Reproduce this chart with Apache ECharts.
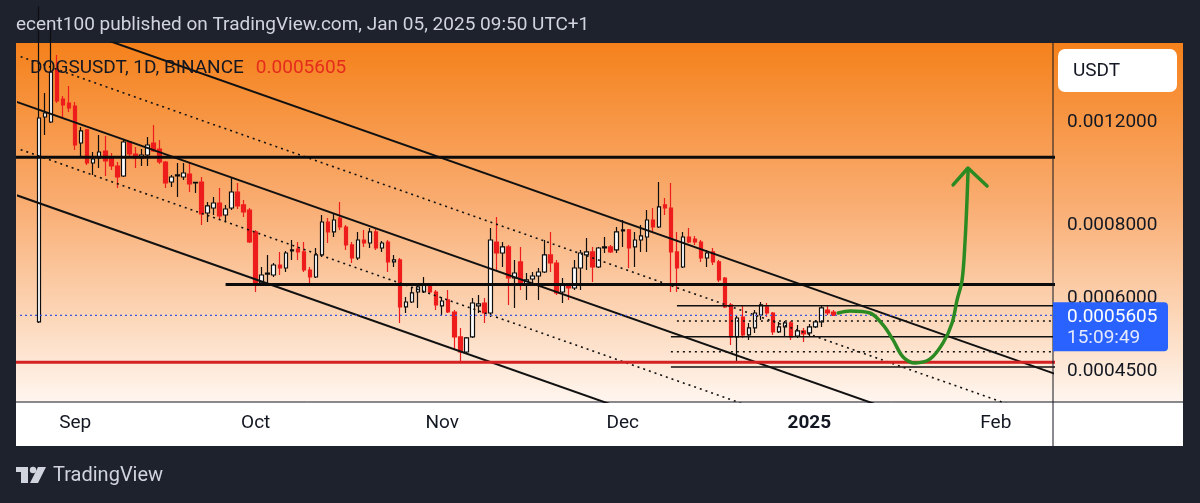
<!DOCTYPE html>
<html>
<head>
<meta charset="UTF-8">
<title>DOGSUSDT 1D</title>
<style>
    html, body {
        margin: 0;
        padding: 0;
        background: #1e222d;
    }

    #chart {
        width: 1200px;
        height: 503px;
    }
</style>
<script src="https://cdn.jsdelivr.net/npm/echarts@6/dist/echarts.min.js"></script>
</head>
<body>
<div id="chart"></div>
<script>
    // one category per day, the empty days on the right keep room for the forecast
    var axisFirstDay = '2024-08-23';
    var axisDayCount = 172;

    var tickDays = ['2024-09-01', '2024-10-01', '2024-11-01', '2024-12-01', '2025-01-01', '2025-02-01'];
    var tickLabels = ['Sep', 'Oct', 'Nov', 'Dec', '2025', 'Feb'];
    var priceTicks = [0.00045, 0.0006, 0.0008, 0.0012];

    // daily candles, first one on candleFirstDay
    var candleFirstDay = '2024-08-26';
    var open = [
        0.0005461, 0.0012273, 0.0012032, 0.0014777, 0.0013176, 0.0012970, 0.0012818, 0.0011074, 0.0011659, 0.0010233,
        0.0010437, 0.0010730, 0.0010437, 0.0010113, 0.0009721, 0.0011118, 0.0010603, 0.0010437, 0.0010562, 0.0011074,
        0.0010814, 0.0010274, 0.0009493, 0.0009721, 0.0009683, 0.0009797, 0.0009456, 0.0009493, 0.0008398, 0.0008566,
        0.0008737, 0.0008333, 0.0008566, 0.0009125, 0.0008669, 0.0008499, 0.0007792, 0.0006370, 0.0006599, 0.0006574,
        0.0006839, 0.0006758, 0.0007228, 0.0007285, 0.0007200, 0.0006705, 0.0006522, 0.0007115, 0.0008105, 0.0007792,
        0.0008234, 0.0007947, 0.0007402, 0.0007031, 0.0007549, 0.0007460, 0.0007792, 0.0007314, 0.0007489, 0.0006921,
        0.0006976, 0.0005794, 0.0005909, 0.0006147, 0.0006147, 0.0006345, 0.0006147, 0.0005817, 0.0005956, 0.0005680,
        0.0005146, 0.0004849, 0.0005146, 0.0005817, 0.0005885, 0.0005657, 0.0007489, 0.0007171, 0.0007344, 0.0006496,
        0.0006921, 0.0006320, 0.0006471, 0.0006548, 0.0006652, 0.0007115, 0.0006893, 0.0006147, 0.0006320, 0.0006245,
        0.0006758, 0.0007115, 0.0007200, 0.0006785, 0.0007314, 0.0007344, 0.0007257, 0.0007823, 0.0007854, 0.0007344,
        0.0007549, 0.0007639, 0.0008170, 0.0007947, 0.0008669, 0.0008566, 0.0007200, 0.0006785, 0.0007639, 0.0007579,
        0.0007489, 0.0007031, 0.0007200, 0.0006921, 0.0006496, 0.0005840, 0.0005146, 0.0005569, 0.0005187, 0.0005333,
        0.0005613, 0.0005794, 0.0005657, 0.0005249, 0.0005354, 0.0005439, 0.0005166, 0.0005270, 0.0005228, 0.0005354,
        0.0005461, 0.0005725, 0.0005680
    ];
    var close = [
        0.0012224, 0.0012468, 0.0014660, 0.0013074, 0.0012869, 0.0012716, 0.0010988, 0.0011613, 0.0010233, 0.0010395,
        0.0010688, 0.0010315, 0.0010113, 0.0009683, 0.0011118, 0.0010603, 0.0010437, 0.0010562, 0.0010988, 0.0010730,
        0.0010274, 0.0009456, 0.0009683, 0.0009760, 0.0009836, 0.0009418, 0.0009475, 0.0008365, 0.0008635, 0.0008737,
        0.0008300, 0.0008532, 0.0009125, 0.0008635, 0.0008432, 0.0007489, 0.0006370, 0.0006574, 0.0006626, 0.0006839,
        0.0006758, 0.0007171, 0.0007257, 0.0007200, 0.0006705, 0.0006522, 0.0007115, 0.0008105, 0.0007792, 0.0008170,
        0.0007947, 0.0007402, 0.0007031, 0.0007549, 0.0007460, 0.0007792, 0.0007314, 0.0007460, 0.0006921, 0.0006976,
        0.0005794, 0.0005909, 0.0006123, 0.0006270, 0.0006320, 0.0006147, 0.0005840, 0.0005932, 0.0005680, 0.0005146,
        0.0004849, 0.0005126, 0.0005885, 0.0005863, 0.0005657, 0.0007549, 0.0007171, 0.0007344, 0.0006496, 0.0006626,
        0.0006320, 0.0006446, 0.0006548, 0.0006652, 0.0007115, 0.0006893, 0.0006123, 0.0006320, 0.0006245, 0.0006758,
        0.0007171, 0.0007200, 0.0006785, 0.0007314, 0.0007344, 0.0007200, 0.0007792, 0.0007854, 0.0007314, 0.0007549,
        0.0007670, 0.0008170, 0.0007947, 0.0008601, 0.0008566, 0.0007200, 0.0006758, 0.0007639, 0.0007489, 0.0007489,
        0.0007031, 0.0007171, 0.0006921, 0.0006446, 0.0005794, 0.0005146, 0.0005547, 0.0005187, 0.0005333, 0.0005657,
        0.0005840, 0.0005657, 0.0005249, 0.0005354, 0.0005439, 0.0005146, 0.0005270, 0.0005207, 0.0005354, 0.0005461,
        0.0005771, 0.0005657, 0.0005605
    ];
    var low = [
        0.0005439, 0.0011431, 0.0011985, 0.0012970, 0.0012224, 0.0012518, 0.0010773, 0.0010520, 0.0010153, 0.0009760,
        0.0010033, 0.0009721, 0.0009954, 0.0009271, 0.0009683, 0.0010520, 0.0010033, 0.0010113, 0.0010113, 0.0010688,
        0.0010192, 0.0009271, 0.0009308, 0.0008947, 0.0009569, 0.0009125, 0.0009089, 0.0008010, 0.0008105, 0.0008333,
        0.0008170, 0.0008105, 0.0008499, 0.0008532, 0.0008267, 0.0007460, 0.0006147, 0.0006320, 0.0006320, 0.0006522,
        0.0006574, 0.0006652, 0.0006976, 0.0006976, 0.0006652, 0.0006370, 0.0006496, 0.0007059, 0.0007460, 0.0007639,
        0.0007854, 0.0007257, 0.0006893, 0.0006976, 0.0007344, 0.0007314, 0.0007257, 0.0007200, 0.0006652, 0.0006785,
        0.0005439, 0.0005657, 0.0005885, 0.0005771, 0.0006123, 0.0006099, 0.0005725, 0.0005613, 0.0005657, 0.0004888,
        0.0004662, 0.0004830, 0.0005126, 0.0005657, 0.0005439, 0.0005569, 0.0006705, 0.0006785, 0.0005840, 0.0005771,
        0.0006196, 0.0005956, 0.0006320, 0.0005956, 0.0006626, 0.0006652, 0.0006075, 0.0005885, 0.0005956, 0.0006196,
        0.0006196, 0.0006705, 0.0006395, 0.0006758, 0.0007171, 0.0007171, 0.0007171, 0.0007344, 0.0006758, 0.0006785,
        0.0007200, 0.0007200, 0.0007761, 0.0007916, 0.0008333, 0.0006147, 0.0006147, 0.0006758, 0.0007460, 0.0007402,
        0.0006921, 0.0006785, 0.0006839, 0.0006395, 0.0005771, 0.0004986, 0.0004662, 0.0005126, 0.0005086, 0.0005228,
        0.0005504, 0.0005569, 0.0005187, 0.0005228, 0.0005146, 0.0005086, 0.0005126, 0.0005046, 0.0005146, 0.0005333,
        0.0005354, 0.0005613, 0.0005590
    ];
    var high = [
        0.0019000, 0.0013493, 0.0017500, 0.0015681, 0.0013335, 0.0013872, 0.0013022, 0.0011797, 0.0011703, 0.0010688,
        0.0011431, 0.0011386, 0.0010645, 0.0010274, 0.0011250, 0.0011163, 0.0010901, 0.0010814, 0.0011341, 0.0011891,
        0.0011207, 0.0010315, 0.0009760, 0.0010233, 0.0010233, 0.0010233, 0.0009493, 0.0009683, 0.0008772, 0.0008947,
        0.0009271, 0.0008669, 0.0009683, 0.0009456, 0.0008842, 0.0008566, 0.0007854, 0.0006785, 0.0007115, 0.0006893,
        0.0007200, 0.0007228, 0.0007549, 0.0007489, 0.0007489, 0.0006785, 0.0007314, 0.0008333, 0.0008234, 0.0008398,
        0.0008772, 0.0008010, 0.0007489, 0.0007792, 0.0007854, 0.0007916, 0.0007916, 0.0007519, 0.0007549, 0.0007115,
        0.0007031, 0.0006027, 0.0006270, 0.0006320, 0.0006522, 0.0006370, 0.0006196, 0.0006027, 0.0006196, 0.0005725,
        0.0005333, 0.0005146, 0.0006003, 0.0006075, 0.0006003, 0.0007916, 0.0008267, 0.0007489, 0.0007402, 0.0006976,
        0.0007344, 0.0006626, 0.0006652, 0.0006758, 0.0007549, 0.0007792, 0.0006976, 0.0006496, 0.0006370, 0.0006976,
        0.0007257, 0.0007609, 0.0007344, 0.0007344, 0.0007639, 0.0007402, 0.0007947, 0.0008170, 0.0007885, 0.0007792,
        0.0008010, 0.0008499, 0.0008566, 0.0009493, 0.0008912, 0.0009456, 0.0007792, 0.0007792, 0.0007916, 0.0007670,
        0.0007549, 0.0007257, 0.0007314, 0.0006976, 0.0006522, 0.0005885, 0.0005613, 0.0005840, 0.0005439, 0.0005725,
        0.0005909, 0.0005885, 0.0005680, 0.0005461, 0.0005482, 0.0005482, 0.0005396, 0.0005333, 0.0005418, 0.0005504,
        0.0005817, 0.0005840, 0.0005725
    ];

    // drawings on the chart, as [day, price]
    var channelSolid = [
        [['2024-08-22', 0.0018895], ['2025-02-11', 0.0004443]],
        [['2024-08-22', 0.0013055], ['2025-02-11', 0.0003069]],
        [['2024-08-22', 0.0009029], ['2025-02-11', 0.0002123]]
    ];
    var channelDotted = [
        [['2024-08-22', 0.0015700], ['2025-02-11', 0.0003691]],
        [['2024-08-22', 0.0010873], ['2025-02-11', 0.0002556]]
    ];
    var levelLines = [
        [['2024-08-22', 0.0010466], ['2025-02-11', 0.0010466]],
        [['2024-09-26', 0.0006333], ['2025-02-11', 0.0006333]]
    ];
    var supportLine = [['2024-08-22', 0.0004657], ['2025-02-11', 0.0004657]];
    var rangeSolid = [
        [['2024-12-10', 0.0005824], ['2025-02-11', 0.0005824]],
        [['2024-12-09', 0.0005152], ['2025-02-11', 0.0005152]],
        [['2024-12-09', 0.0004571], ['2025-02-11', 0.0004571]]
    ];
    var rangeDotted = [
        [['2024-12-10', 0.0005482], ['2025-02-11', 0.0005482]],
        [['2024-12-09', 0.0004855], ['2025-02-11', 0.0004855]]
    ];
    var forecastPath = [
        ['2025-01-05 19:00', 0.0005657],
        ['2025-01-07 18:30', 0.0005702],
        ['2025-01-11 02:00', 0.0005657],
        ['2025-01-13 06:00', 0.0005396],
        ['2025-01-14 22:00', 0.0005086],
        ['2025-01-16 14:00', 0.0004755],
        ['2025-01-18 14:00', 0.0004643],
        ['2025-01-21 02:00', 0.0004718],
        ['2025-01-23 05:30', 0.0005026],
        ['2025-01-24 17:30', 0.0005439],
        ['2025-01-25 13:30', 0.0005956],
        ['2025-01-26 09:30', 0.0006446],
        ['2025-01-26 21:30', 0.0007549],
        ['2025-01-27 05:00', 0.0008842],
        ['2025-01-27 09:00', 0.0009875]
    ];
    var forecastHead = [['2025-01-24 21:30', 0.0009382], ['2025-01-27 09:00', 0.0010033], ['2025-01-30 13:00', 0.0009345]];

    var DAY = 864e5;

    function ts(s) {
        var p = s.split(/[- :]/).map(Number);
        return Date.UTC(p[0], p[1] - 1, p[2], p[3] || 0, p[4] || 0);
    }

    var days = [];
    for (var i = 0; i < axisDayCount; i++) {
        days.push(new Date(ts(axisFirstDay) + i * DAY).toISOString().slice(0, 10));
    }

    var candleRows = open.map(function (o, k) {
        var day = new Date(ts(candleFirstDay) + k * DAY).toISOString().slice(0, 10);
        return [day, o, close[k], low[k], high[k]];
    });
    var lastClose = close[close.length - 1];

    function drawLine(points, style, z, smooth) {
        return {
            type: 'line',
            xAxisIndex: 1,
            yAxisIndex: 0,
            data: points.map(function (p) { return [ts(p[0]), p[1]]; }),
            symbol: 'none',
            smooth: smooth || false,
            silent: true,
            clip: true,
            animation: false,
            lineStyle: style,
            z: z
        };
    }

    var series = [{
        type: 'candlestick',
        xAxisIndex: 0,
        yAxisIndex: 0,
        dimensions: ['day', 'open', 'close', 'low', 'high'],
        encode: {x: 0, y: [1, 2, 3, 4]},
        data: candleRows,
        barWidth: 4,
        clip: true,
        silent: true,
        animation: false,
        itemStyle: {
            color: '#ffffff',
            color0: '#ee1c1c',
            borderColor: '#0e0e0e',
            borderColor0: '#ee1c1c',
            borderWidth: 1.2
        },
        z: 2
    }];

    channelSolid.forEach(function (l) {
        series.push(drawLine(l, {color: '#111111', width: 2}, 3));
    });
    channelDotted.forEach(function (l) {
        series.push(drawLine(l, {color: '#111111', width: 1.6, type: [2, 4]}, 3));
    });
    levelLines.forEach(function (l) {
        series.push(drawLine(l, {color: '#0b0b0b', width: 3}, 4));
    });
    rangeSolid.forEach(function (l) {
        series.push(drawLine(l, {color: '#111111', width: 1.5}, 3));
    });
    rangeDotted.forEach(function (l) {
        series.push(drawLine(l, {color: '#111111', width: 1.6, type: [2, 4]}, 3));
    });
    series.push(drawLine(supportLine, {color: '#d42222', width: 3}, 4));
    series.push(drawLine([['2024-08-22', lastClose], ['2025-02-11', lastClose]],
        {color: '#3f55e0', width: 1.3, type: [2, 3]}, 3));
    series.push(drawLine(forecastPath, {color: '#2b8a22', width: 3.5, cap: 'round'}, 6, 0.35));
    series.push(drawLine(forecastHead, {color: '#2b8a22', width: 3.5, cap: 'round', join: 'round'}, 6));

    var bgGradient = new echarts.graphic.LinearGradient(0, 0, 0, 1, [
        {offset: 0, color: '#f5811b'},
        {offset: 0.45, color: '#f9ad72'},
        {offset: 0.75, color: '#fcd5b6'},
        {offset: 1, color: '#fff6ef'}
    ]);

    var font = 'Roboto, "Noto Sans", sans-serif';

    var chart = echarts.init(document.getElementById('chart'), null, {renderer: 'canvas'});

    var option = {
        backgroundColor: '#1e222d',
        animation: false,
        grid: {left: 18, right: 147, top: 43, bottom: 101},
        xAxis: [{
            type: 'category',
            data: days,
            boundaryGap: true,
            axisLine: {show: false},
            axisTick: {show: false},
            splitLine: {show: false},
            axisLabel: {
                interval: function (index, value) {
                    return tickDays.indexOf(value) >= 0;
                },
                formatter: function (value) {
                    var label = tickLabels[tickDays.indexOf(value)];
                    return label === '2025' ? '{b|' + label + '}' : label;
                },
                rich: {b: {fontWeight: 'bold', fontSize: 19, fontFamily: font, color: '#131722'}},
                color: '#131722',
                fontSize: 19,
                fontFamily: font,
                margin: 12
            }
        }, {
            type: 'time',
            show: false,
            min: ts(axisFirstDay) - DAY / 2,
            max: ts(days[days.length - 1]) + DAY / 2
        }],
        yAxis: {
            type: 'log',
            logBase: 10,
            position: 'right',
            min: 0.000398,
            max: 0.001644,
            axisLine: {show: false},
            axisTick: {show: false},
            splitLine: {show: false},
            axisLabel: {
                customValues: priceTicks,
                formatter: function (v) { return v.toFixed(7); },
                color: '#131722',
                fontSize: 19,
                fontFamily: font,
                margin: 14
            }
        },
        series: series
    };
    chart.setOption(option);

    var yLast = chart.convertToPixel({yAxisIndex: 0}, lastClose);

    chart.setOption({
        graphic: [
            {type: 'rect', z: -10, silent: true, shape: {x: 16, y: 43, width: 1167, height: 359}, style: {fill: bgGradient}},
            {type: 'rect', z: -10, silent: true, shape: {x: 16, y: 402, width: 1167, height: 44}, style: {fill: '#ffffff'}},
            {type: 'line', z: 50, silent: true, shape: {x1: 16, y1: 402, x2: 1183, y2: 402}, style: {stroke: '#131722', lineWidth: 1}},
            {type: 'line', z: 50, silent: true, shape: {x1: 1053, y1: 43, x2: 1053, y2: 446}, style: {stroke: '#131722', lineWidth: 1}},
            {
                type: 'text', z: 50, silent: true, x: 16, y: 25,
                style: {
                    text: 'ecent100 published on TradingView.com, Jan 05, 2025 09:50 UTC+1',
                    fill: '#d1d4dc', font: '19px ' + font, verticalAlign: 'middle'
                }
            },
            {
                type: 'text', z: 50, silent: true, x: 30, y: 68,
                style: {
                    text: '{a|DOGSUSDT, 1D, BINANCE}{b|' + lastClose.toFixed(7) + '}',
                    verticalAlign: 'middle',
                    rich: {
                        a: {fill: '#131722', fontSize: 19, fontFamily: font},
                        b: {fill: '#e52b1d', fontSize: 19, fontFamily: font, padding: [0, 0, 0, 12]}
                    }
                }
            },
            {type: 'rect', z: 60, silent: true, shape: {x: 1058, y: 49, width: 119, height: 43, r: 7}, style: {fill: '#ffffff'}},
            {
                type: 'text', z: 61, silent: true, x: 1073, y: 71,
                style: {text: 'USDT', fill: '#131722', font: '19px ' + font, verticalAlign: 'middle'}
            },
            {type: 'rect', z: 60, silent: true, shape: {x: 1053, y: yLast - 13, width: 115, height: 49, r: [0, 4, 4, 0]}, style: {fill: '#2962ff'}},
            {
                type: 'text', z: 61, silent: true, x: 1067, y: yLast + 2,
                style: {text: lastClose.toFixed(7), fill: '#ffffff', font: '19px ' + font, verticalAlign: 'middle'}
            },
            {
                type: 'text', z: 61, silent: true, x: 1067, y: yLast + 23,
                style: {text: '15:09:49', fill: '#e3e9ff', font: '19px ' + font, verticalAlign: 'middle'}
            },
            // TradingView mark
            {type: 'rect', z: 50, silent: true, shape: {x: 16, y: 467, width: 12, height: 5}, style: {fill: '#d1d4dc'}},
            {type: 'rect', z: 50, silent: true, shape: {x: 21, y: 467, width: 7, height: 16}, style: {fill: '#d1d4dc'}},
            {type: 'circle', z: 50, silent: true, shape: {cx: 33, cy: 470, r: 3.2}, style: {fill: '#d1d4dc'}},
            {type: 'polygon', z: 50, silent: true, shape: {points: [[38, 467], [46, 467], [38, 483], [30, 483]]}, style: {fill: '#d1d4dc'}},
            {
                type: 'text', z: 50, silent: true, x: 53, y: 476,
                style: {text: 'TradingView', fill: '#d1d4dc', font: '20px ' + font, verticalAlign: 'middle'}
            }
        ]
    });
</script>
</body>
</html>
